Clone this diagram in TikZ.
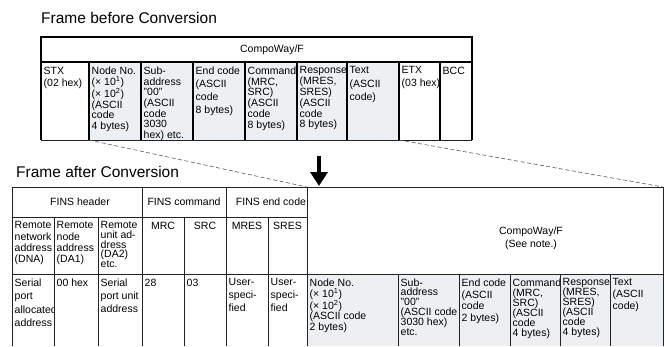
\documentclass[tikz,border=0pt]{standalone}
\usepackage{fontspec}
\setmainfont{Liberation Sans}
\usetikzlibrary{arrows.meta}
\definecolor{frameShade}{RGB}{236,240,243}
\definecolor{frameLine}{RGB}{35,35,35}
\definecolor{frameDash}{RGB}{90,90,90}

\begin{document}
\begin{tikzpicture}[x=1pt, y=-1pt,
  celltext/.style={font=\fontsize{10.5}{#1}\selectfont, align=left,
                   inner sep=0pt, anchor=north west},
  celltext/.default=11,
  midtext/.style={font=\fontsize{10.5}{13}\selectfont, align=center, inner sep=0pt},
  frametitle/.style={font=\fontsize{15.5}{18}\selectfont, inner sep=0pt, anchor=base west},
  boldline/.style={draw=black, line width=2pt},
  topline/.style={draw=black, line width=1.1pt},
  gridline/.style={draw=frameLine, line width=0.8pt},
  dashlink/.style={draw=frameDash, line width=0.6pt, dash pattern=on 4pt off 2.5pt},
  arr/.style={-{Triangle[length=14pt,width=17pt]}, black, line width=4pt},
]
\useasboundingbox (0,0) rectangle (665,346);

\def\ttop{62}   % top frame: first cell row
\def\tbot{140}  % top frame: bottom edge
\def\btop{187}  % bottom frame: top edge
\def\bmid{274}  % bottom frame: value row
\def\bend{346}  % bottom frame: lower edge (cut)

% ─── helper macro: one filled cell with its text ───────────────
% #1=name, #2=x-left, #3=x-right, #4=y-top, #5=y-bottom, #6=fill, #7=leading, #8=text
\newcommand{\drawcell}[8]{%
  \fill[#6] (#2,#4) rectangle (#3,#5);
  \node[celltext=#7] (#1) at ({#2+2.5},{#4+4.5}) {#8};
}

% ─── Frame before Conversion ───────────────────────────────────
\node[frametitle] (titleBefore) at (41,23) {Frame before Conversion};

\foreach \nm/\xa/\xb/\fc/\ld/\txt in {
    stx/41/89/white/12.5/{STX\\(02 hex)},
    node/89/141/frameShade/10.8/{Node No.\\(× 10\textsuperscript{1})\\(× 10\textsuperscript{2})\\(ASCII\\code\\4 bytes)},
    sub/141/193/frameShade/10.7/{Sub-\\address\\"00"\\(ASCII\\code\\3030\\hex) etc.},
    end/193/245/frameShade/13/{End code\\(ASCII\\code\\8 bytes)},
    cmd/245/297/frameShade/10.8/{Command\\(MRC,\\SRC)\\(ASCII\\code\\8 bytes)},
    resp/297/347/frameShade/10.8/{Response\\(MRES,\\SRES)\\(ASCII\\code\\8 bytes)},
    text/347/399/frameShade/13.3/{Text\\(ASCII\\code)},
    etx/399/440/white/12.5/{ETX\\(03 hex)},
    bcc/440/472/white/12.5/{BCC}}{
  \drawcell{b\nm}{\xa}{\xb}{\ttop}{\tbot}{\fc}{\ld}{\txt}
}

\draw[boldline] (41,37) rectangle (472,\ttop);
\node[midtext] (bCompo) at (272,50) {CompoWay/F};
\foreach \x in {41,89,141,193,245,297,347,399,440,472}{
  \draw[topline] (\x,\ttop) -- (\x,\tbot);
}
\draw[gridline] (41,\tbot) -- (472,\tbot);

% ─── Frame after Conversion ────────────────────────────────────
\node[frametitle] (titleAfter) at (16,177) {Frame after Conversion};

% FINS part, address row
\foreach \nm/\xa/\xb/\ld/\txt in {
    dna/12/54/11.3/{Remote\\network\\address\\(DNA)},
    daone/54/98/11.3/{Remote\\node\\address\\(DA1)},
    datwo/98/142/9.6/{Remote\\unit ad-\\dress\\(DA2)\\etc.}}{
  \drawcell{a\nm}{\xa}{\xb}{217}{\bmid}{white}{\ld}{\txt}
}
\foreach \nm/\xa/\xb in {MRC/142/184, SRC/184/226, MRES/226/268, SRES/268/307}{
  \node[midtext, anchor=north] (a\nm) at ({(\xa+\xb)/2},{217+4.5}) {\nm};
}

% value row
\foreach \nm/\xa/\xb/\fc/\ld/\txt in {
    serial/12/54/white/13.5/{Serial\\port\\allocated\\address},
    hex/54/98/white/11/{00 hex},
    unit/98/142/white/13.3/{Serial\\port unit\\address},
    mrc/142/184/white/11/{28},
    src/184/226/white/11/{03},
    mres/226/268/white/13/{User-\\speci-\\fied},
    sres/268/307/white/13/{User-\\speci-\\fied},
    node/307/398/frameShade/10.7/{Node No.\\(× 10\textsuperscript{1})\\(× 10\textsuperscript{2})\\(ASCII code\\2 bytes)},
    sub/398/459/frameShade/9.6/{Sub-\\address\\"00"\\(ASCII code\\3030 hex)\\etc.},
    end/459/510/frameShade/11.7/{End code\\(ASCII\\code\\2 bytes)},
    cmd/510/560/frameShade/10/{Command\\(MRC,\\SRC)\\(ASCII\\code\\4 bytes)},
    resp/560/610/frameShade/10/{Response\\(MRES,\\SRES)\\(ASCII\\code\\4 bytes)},
    text/610/663/frameShade/11.7/{Text\\(ASCII\\code)}}{
  \drawcell{v\nm}{\xa}{\xb}{\bmid}{\bend}{\fc}{\ld}{\txt}
}

% header texts
\node[midtext] (finsHeader) at (80,202) {FINS header};
\node[midtext] (finsCommand) at (184,202) {FINS command};
\node[midtext] (finsEnd) at (271,202) {FINS end code};
\node[midtext] (aCompo) at (531,238.5) {CompoWay/F\\(See note.)};

% grid
\draw[gridline] (12,\btop) -- (663,\btop);
\draw[gridline] (12,217) -- (307,217);
\draw[gridline] (12,\bmid) -- (663,\bmid);
\foreach \x in {12,142,226,307,663}{
  \draw[gridline] (\x,\btop) -- (\x,\bend);
}
\foreach \x in {54,98,184,268}{
  \draw[gridline] (\x,217) -- (\x,\bend);
}
\foreach \x in {398,459,510,560,610}{
  \draw[gridline] (\x,\bmid) -- (\x,\bend);
}

% ─── links between the frames ──────────────────────────────────
\coordinate (nodeSW) at (89,\tbot);
\coordinate (etxSW) at (399,\tbot);
\coordinate (compoNW) at (307,\btop);
\coordinate (compoNE) at (663,\btop);
\draw[dashlink] (nodeSW) -- (compoNW);
\draw[dashlink] (etxSW) -- (compoNE);

\coordinate (arrFrom) at (319,156);
\coordinate (arrTo) at (319,186);
\draw[arr] (arrFrom) -- (arrTo);

\end{tikzpicture}
\end{document}
